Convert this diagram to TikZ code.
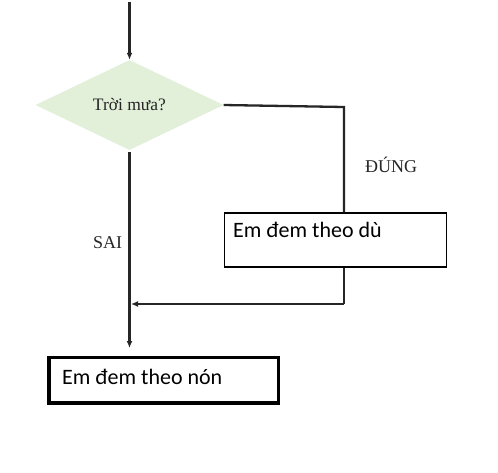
\documentclass[tikz,border=0pt]{standalone}
\usepackage{fontspec}
\setmainfont{Liberation Serif}
\newfontfamily\calfont{Carlito}
\usetikzlibrary{shapes.geometric,arrows.meta}
\definecolor{dfill}{HTML}{E2EFD9}
\definecolor{lblgray}{HTML}{262626}
\definecolor{linegray}{HTML}{262626}
\begin{document}
\begin{tikzpicture}[x=1pt,y=-1pt,
  conn/.style={draw=linegray, line width=2.3pt},
  arr/.style={conn, -{Latex[length=7pt,width=6pt]}},
  decision/.style={diamond, fill=dfill, inner sep=0pt, minimum width=188pt, minimum height=90pt,
    font=\fontsize{17.5}{20}\selectfont, text=lblgray},
  lbl/.style={font=\fontsize{18}{21}\selectfont, text=lblgray, inner sep=0pt},
  boxtxt/.style={font=\calfont\fontsize{22}{26}\selectfont, inner sep=0pt},
  thinbox/.style={draw=black, line width=1.5pt},
  thickbox/.style={draw=black, line width=3.5pt}]
\useasboundingbox (0,0) rectangle (498,472);
\fill[white] (0,0) rectangle (498,472);

\node[decision] (d) at (129.5,105) {Trời mưa?};
\node[thinbox, minimum width=222pt, minimum height=54pt] (b1) at (335.5,240) {};
\node[boxtxt, anchor=base west] (t1) at (233,237) {Em đem theo dù};
\node[thickbox, minimum width=229.5pt, minimum height=45.3pt] (b2) at (163.7,380.2) {};
\node[boxtxt, anchor=base west] (t2) at (62,384) {Em đem theo nón};
\node[lbl, anchor=base west] (sai) at (93,248) {SAI};
\node[lbl, anchor=base west] (dung) at (365,172) {ĐÚNG};

\coordinate (start) at (129.5,2);
\coordinate (c1) at (344,107);
\coordinate (c2) at (344,304);
\coordinate (c3) at (131,304);
\coordinate (c4) at (129.5,348);

\draw[arr] (start) -- (d.north);
\draw[conn] (d.east) -- (c1) -- (b1.north -| c1);
\draw[conn] (b1.south -| c1) -- (c2);
\draw[arr] (c2) -- (c3);
\draw[arr, shorten <=2pt] (d.south) -- (c4);
\end{tikzpicture}
\end{document}
